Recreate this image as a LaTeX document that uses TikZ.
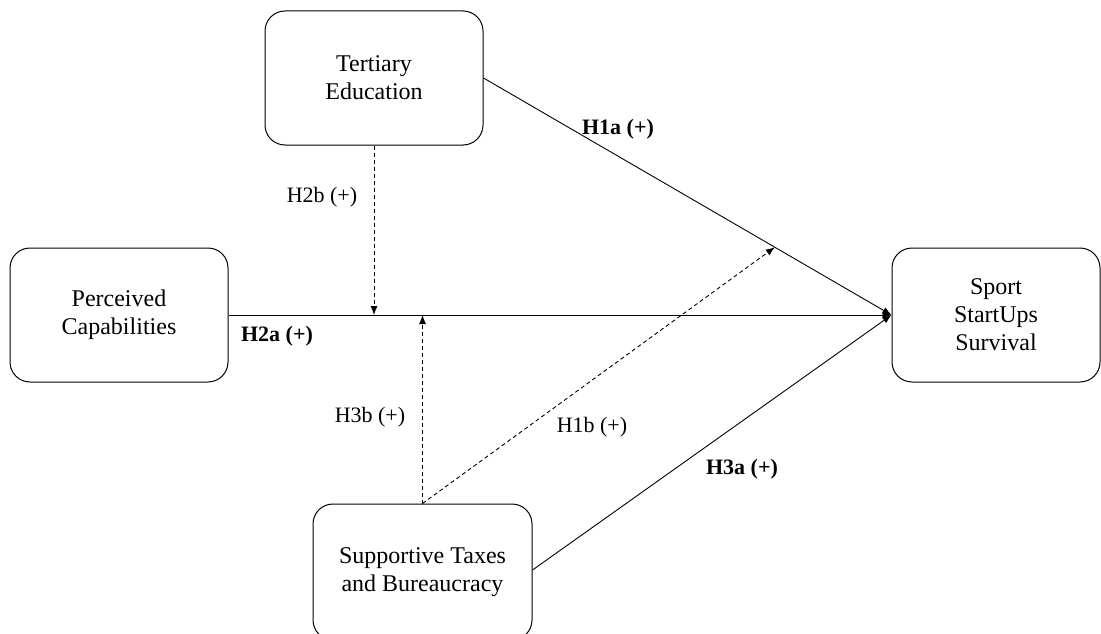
\documentclass[tikz,border=0pt]{standalone}
\usepackage{fontspec}
\setmainfont{Liberation Serif}
\usepackage{tikz}
\usetikzlibrary{calc, arrows.meta}

\begin{document}
\begin{tikzpicture}[x=1pt,y=-1pt,
  construct/.style={draw, line width=1pt, rounded corners=20pt, align=center,
    font=\fontsize{24}{28}\selectfont, inner sep=0pt},
  hyp/.style={font=\fontsize{22}{26}\selectfont, inner sep=0pt},
  link/.style={line width=0.9pt, -{Latex[length=9pt,width=7pt]}},
  modlink/.style={link, dashed, dash pattern=on 4pt off 3pt}
  ]
  \useasboundingbox (0,0) rectangle (1101,634);
% constructs
  \node[construct, minimum width=218pt, minimum height=134pt] (tert) at (374,78) {Tertiary\\Education};
  \node[construct, minimum width=218pt, minimum height=134pt] (perc) at (119,315) {Perceived\\Capabilities};
  \node[construct, minimum width=219pt, minimum height=136pt] (supp) at (422.5,572) {Supportive Taxes\\and Bureaucracy};
  \node[construct, minimum width=208pt, minimum height=134pt] (surv) at (996,315) {Sport\\StartUps\\Survival};
% direct effects
  \draw[link] (tert.east) -- (surv.west);
  \draw[link] (perc.east) -- (surv.west);
  \draw[link] ($(supp.east)+(0,-2)$) -- (surv.west);
% moderating effects
  \coordinate (on1a) at ($(tert.east)!0.714!(surv.west)$);
  \draw[modlink] (tert.south) -- (tert.south |- perc.east);
  \draw[modlink] (supp.north) -- (supp.north |- perc.east);
  \draw[modlink] (supp.north) -- (on1a);
% labels
  \node[hyp] (h1a) at (618,129) {\textbf{H1a (+)}};
  \node[hyp] (h2b) at (322,197) {H2b (+)};
  \node[hyp] (h2a) at (277,336) {\textbf{H2a (+)}};
  \node[hyp] (h3b) at (370,417) {H3b (+)};
  \node[hyp] (h1b) at (592,427) {H1b (+)};
  \node[hyp] (h3a) at (742,469) {\textbf{H3a (+)}};
\end{tikzpicture}
\end{document}
